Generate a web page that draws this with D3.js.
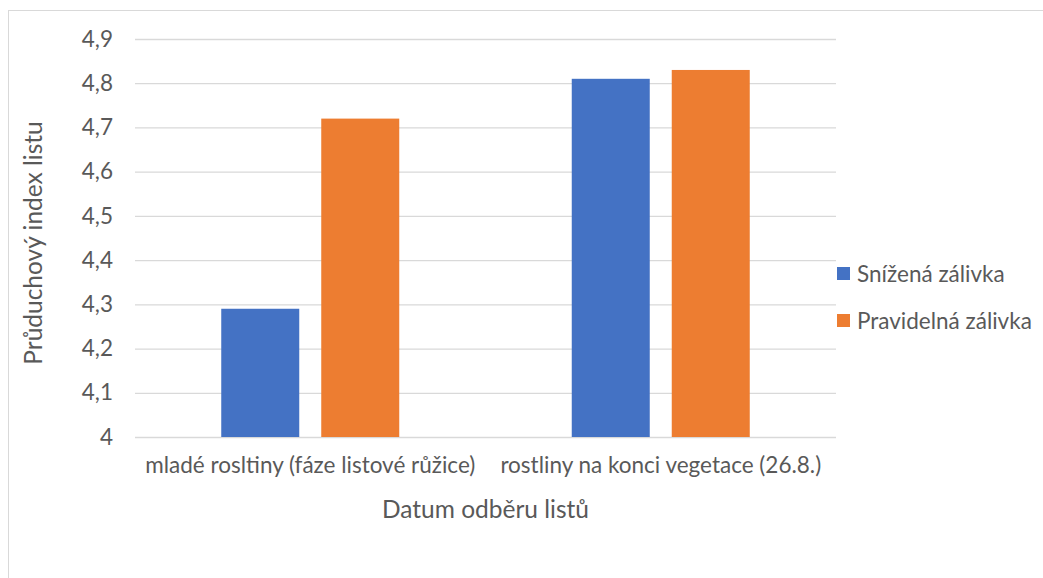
<!DOCTYPE html>
<html>
<head>
<meta charset="utf-8">
<script src="https://cdn.jsdelivr.net/npm/d3@7"></script>
<style>
  html, body { margin: 0; padding: 0; background: #fff; }
  svg { display: block; }
  text { font-family: "Lato", "Open Sans", sans-serif; fill: #595959; }
</style>
</head>
<body>
<svg id="chart" width="1043" height="578"></svg>
<script>
// Leaf sampling stages (x categories)
const categories = [
  "mladé rosltiny (fáze listové růžice)",
  "rostliny na konci vegetace (26.8.)"
];
// Watering regimes
const seriesNames = ["Snížená zálivka", "Pravidelná zálivka"];
const reducedWatering = [4.29, 4.81];
const regularWatering = [4.72, 4.83];
const yTicks = [4.0, 4.1, 4.2, 4.3, 4.4, 4.5, 4.6, 4.7, 4.8, 4.9];
const colors = ["#4472c4", "#ed7d31"];

const seriesValues = [reducedWatering, regularWatering];

const svg = d3.select("#chart");
const margin = { left: 135, right: 836, top: 39, bottom: 437 };
const labelSize = 22.5, titleSize = 24.5;

// outer chart frame
svg.append("rect")
  .attr("x", 8.5).attr("y", 10.5)
  .attr("width", 1100).attr("height", 700)
  .attr("fill", "none").attr("stroke", "#d9d9d9").attr("stroke-width", 1);

const x = d3.scaleBand().domain(categories).range([margin.left, margin.right]);
const xInner = d3.scaleBand().domain(seriesNames)
  .range([x.bandwidth() / 2 - 89, x.bandwidth() / 2 + 89])
  .paddingInner(22 / 178 * 2 / (1 + 22 / 178));
const y = d3.scaleLinear().domain([4.0, 4.9]).range([margin.bottom, margin.top]);

// gridlines and y tick labels
const yAxis = d3.axisLeft(y)
  .tickValues(yTicks)
  .tickSize(-(margin.right - margin.left))
  .tickPadding(22)
  .tickFormat(d => d3.format(".1f")(d).replace(".", ",").replace(",0", ""));
const gy = svg.append("g").attr("transform", `translate(${margin.left},0)`).call(yAxis);
gy.select(".domain").remove();
gy.selectAll(".tick line").attr("stroke", "#d9d9d9").attr("stroke-width", 1.3);
gy.selectAll(".tick text").attr("font-size", labelSize).style("fill", "#595959")
  .attr("font-family", "Lato, sans-serif");

// bars
categories.forEach((cat, ci) => {
  seriesNames.forEach((s, si) => {
    const v = seriesValues[si][ci];
    svg.append("rect")
      .attr("x", x(cat) + xInner(s))
      .attr("y", y(v))
      .attr("width", xInner.bandwidth())
      .attr("height", y(4.0) - y(v))
      .attr("fill", colors[si]);
  });
});

// x category labels
const xAxis = d3.axisBottom(x).tickSize(0).tickPadding(20);
const gx = svg.append("g").attr("transform", `translate(0,${margin.bottom})`).call(xAxis);
gx.select(".domain").remove();
gx.selectAll(".tick text").attr("font-size", labelSize).style("fill", "#595959")
  .attr("font-family", "Lato, sans-serif");

// axis titles
svg.append("text")
  .attr("x", (margin.left + margin.right) / 2).attr("y", 518)
  .attr("text-anchor", "middle").attr("font-size", titleSize)
  .text("Datum odběru listů");
svg.append("text")
  .attr("transform", `translate(42,${(margin.top + margin.bottom) / 2 + 5}) rotate(-90)`)
  .attr("text-anchor", "middle").attr("font-size", titleSize)
  .text("Průduchový index listu");

// legend
const legend = svg.append("g");
seriesNames.forEach((s, i) => {
  const ly = 274 + i * 47;
  legend.append("rect").attr("x", 837).attr("y", ly - 7).attr("width", 13).attr("height", 13)
    .attr("fill", colors[i]);
  legend.append("text").attr("x", 857).attr("y", ly + 8).attr("font-size", labelSize).text(s);
});
</script>
</body>
</html>
